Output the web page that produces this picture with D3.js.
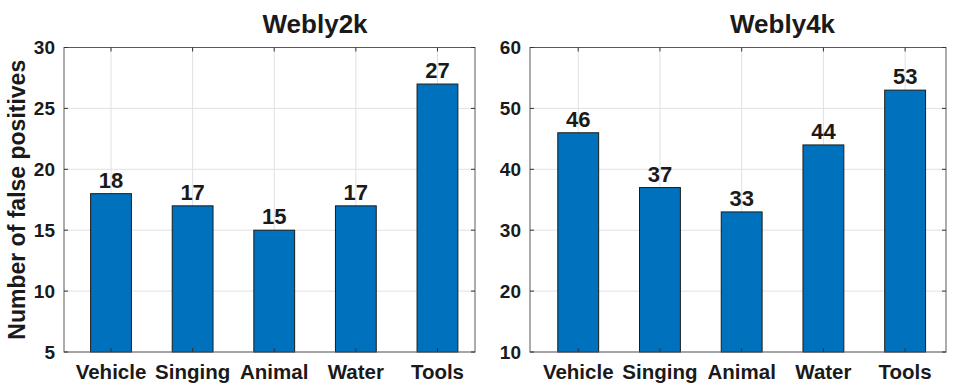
<!DOCTYPE html>
<html><head><meta charset="utf-8">
<script src="https://cdn.jsdelivr.net/npm/d3@7"></script>
<style>body{margin:0;background:#fff}svg{display:block}text{font-family:"Liberation Sans",Arial,sans-serif;font-weight:bold;fill:#1a1a1a}</style>
</head><body><svg id="c" width="960" height="387"></svg>
<script>
const categories = ["Vehicle","Singing","Animal","Water","Tools"];
const webly2kValues = [18,17,15,17,27];
const webly4kValues = [46,37,33,44,53];
const webly2kTicks = [5,10,15,20,25,30];
const webly4kTicks = [10,20,30,40,50,60];
const titles = ["Webly2k","Webly4k"];
const yLabel = "Number of false positives";

const svg = d3.select("#c");
const panels = [
  {title:titles[0], values:webly2kValues, ticks:webly2kTicks, x0:64, x1:475, idx:[0.424,5.46]},
  {title:titles[1], values:webly4kValues, ticks:webly4kTicks, x0:530, x1:946, idx:[0.41,5.5]}
];
const plotTop = 47.5, plotBottom = 352;

panels.forEach(p=>{
  const g = svg.append("g");
  const x = d3.scaleLinear().domain(p.idx).range([p.x0,p.x1]);
  const y = d3.scaleLinear().domain(d3.extent(p.ticks)).range([plotBottom,plotTop]);
  const bw = x(1.25)-x(0.75);
  g.selectAll(".hg").data(p.ticks).join("line").attr("x1",p.x0).attr("x2",p.x1)
    .attr("y1",d=>y(d)).attr("y2",d=>y(d)).attr("stroke","#e1e1e1").attr("stroke-width",1);
  g.selectAll(".vg").data(categories).join("line").attr("y1",plotTop).attr("y2",plotBottom)
    .attr("x1",(d,i)=>x(i+1)).attr("x2",(d,i)=>x(i+1)).attr("stroke","#e1e1e1").attr("stroke-width",1);
  g.selectAll("rect.bar").data(p.values).join("rect").attr("class","bar")
    .attr("x",(d,i)=>x(i+1)-bw/2).attr("width",bw)
    .attr("y",d=>y(d)).attr("height",d=>y(p.ticks[0])-y(d))
    .attr("fill","#0072BD").attr("stroke","#1a1a1a").attr("stroke-width",1);
  g.selectAll("text.val").data(p.values).join("text").attr("class","val")
    .attr("x",(d,i)=>x(i+1)).attr("y",d=>y(d)-6).attr("text-anchor","middle")
    .attr("font-size",22).text(d=>d);
  g.append("rect").attr("x",p.x0).attr("y",plotTop).attr("width",p.x1-p.x0).attr("height",plotBottom-plotTop)
    .attr("fill","none").attr("stroke","#5a5a5a").attr("stroke-width",1);
  const tl = 4;
  categories.forEach((c,i)=>{
    g.append("line").attr("x1",x(i+1)).attr("x2",x(i+1)).attr("y1",plotBottom).attr("y2",plotBottom-tl).attr("stroke","#333");
    g.append("line").attr("x1",x(i+1)).attr("x2",x(i+1)).attr("y1",plotTop).attr("y2",plotTop+tl).attr("stroke","#333");
  });
  p.ticks.forEach(t=>{
    g.append("line").attr("x1",p.x0).attr("x2",p.x0+tl).attr("y1",y(t)).attr("y2",y(t)).attr("stroke","#333");
    g.append("line").attr("x1",p.x1).attr("x2",p.x1-tl).attr("y1",y(t)).attr("y2",y(t)).attr("stroke","#333");
  });
  g.selectAll("text.yt").data(p.ticks).join("text").attr("class","yt")
    .attr("x",p.x0-9).attr("y",d=>y(d)).attr("dy","0.36em").attr("text-anchor","end")
    .attr("font-size",19).text(d=>d);
  g.selectAll("text.xt").data(categories).join("text").attr("class","xt")
    .attr("x",(d,i)=>x(i+1)).attr("y",379).attr("text-anchor","middle")
    .attr("font-size",20.5).text(d=>d);
  g.append("text").attr("x",x(3.5)).attr("y",32.5).attr("text-anchor","middle")
    .attr("font-size",26).text(p.title);
});
svg.append("text").attr("transform",`translate(25,${(plotTop+plotBottom)/2}) rotate(-90)`)
  .attr("text-anchor","middle").attr("font-size",23).text(yLabel);
</script></body></html>
